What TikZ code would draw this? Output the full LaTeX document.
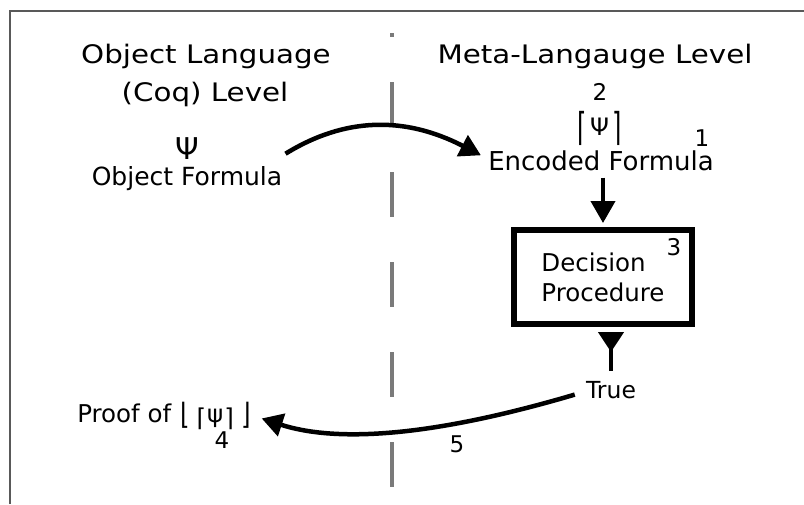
\documentclass[tikz,border=0pt]{standalone}
\usepackage{fontspec}
\usepackage{graphicx}
\setmainfont{DejaVu Sans}
\newfontfamily\headfont{DejaVu Sans}[FakeStretch=1.15]
\usetikzlibrary{arrows.meta,positioning}
\newcommand{\tallbr}[3]{\raisebox{#2}{\scalebox{1}[#1]{#3}}}

\begin{document}
\begin{tikzpicture}[
                    x=1pt,
                    y=-1pt,
                    inner sep=0pt,
                    semithick
                ]
                \tikzstyle{heading}=[
                    font=\headfont\fontsize{25.5}{30}\selectfont,
                    anchor=base
                ]
                \tikzstyle{caption}=[
                    font=\fontsize{25}{30}\selectfont,
                    anchor=base
                ]
                \tikzstyle{stepnum}=[
                    font=\fontsize{23}{28}\selectfont,
                    anchor=base
                ]
                \tikzstyle{decisionbox}=[
                    draw=black,
                    line width=6pt,
                    minimum width=178pt,
                    minimum height=94pt,
                    align=left,
                    font=\fontsize{24.5}{30}\selectfont
                ]
                \tikzstyle{bigarrow}=[
                    line width=4.5pt,
                    -{Triangle[length=21pt, width=23pt]}
                ]

                \useasboundingbox (0,0) rectangle (804,504);

                % frame and the level divider
                \draw[line width=1.2pt, black!65] (10,504) -- (10,11) -- (804,11);
                \draw[line width=4pt, black!52, dash pattern=on 45pt off 45pt, dash phase=41pt]
                    (392,33) -- (392,490);

                % headings
                \node[heading] (objhead) at (206,63) {Object Language};
                \node[heading] (coqhead) at (205,101) {(Coq) Level};
                \node[heading] (metahead) at (595,63) {Meta-Langauge Level};

                % object side
                \node[anchor=base, font=\fontsize{30}{30}\selectfont] (psi) at (187,159) {Ψ};
                \node[caption] (objformula) at (187,185) {Object Formula};
                \node[caption, anchor=base west, font=\fontsize{24.5}{30}\selectfont] (proof) at (77,422)
                    {Proof of \hspace{2pt}\tallbr{1.2}{-2pt}{⌊}\hspace{6pt}\tallbr{1}{-4pt}{⌈}\hspace{1pt}ψ\hspace{1pt}\tallbr{1}{-4pt}{⌉}\hspace{8pt}\tallbr{1.2}{-2pt}{⌋}};
                \node[stepnum] (four) at (222,448) {4};

                % meta side
                \node[stepnum] (two) at (600,100) {2};
                \node[anchor=base, font=\fontsize{24}{30}\selectfont] (encpsi) at (600,135)
                    {\tallbr{1.6}{-5pt}{⌈}\hspace{3pt}Ψ\hspace{4pt}\tallbr{1.6}{-5pt}{⌉}};
                \node[stepnum] (one) at (702,146) {1};
                \node[caption, font=\fontsize{26}{30}\selectfont] (encoded) at (601,170) {Encoded Formula};
                \node[decisionbox] (decide) at (603,277) {Decision\\Procedure};
                \node[stepnum] (three) at (674,255) {3};
                \node[anchor=base, font=\fontsize{23.5}{28}\selectfont] (true) at (611,398) {True};
                \node[stepnum] (five) at (457,452) {5};

                % arrows
                \draw[bigarrow]
                    ([shift={(3,-12)}]objformula.north east)
                    .. controls (345,117) and (405,116) ..
                    ([shift={(-7,-5)}]encoded.west);
                \draw[line width=4pt, -{Triangle[length=22pt, width=24pt]}, shorten <=7pt, shorten >=4pt]
                    (decide.north |- encoded.south) -- (decide.north);
                \draw[line width=4.5pt, -{Triangle[reversed, length=20pt, width=25pt]}, shorten >=5pt]
                    ([shift={(0,-10)}]true.north) -- (true.north |- decide.south);
                \draw[bigarrow]
                    ([shift={(-11,5)}]true.west)
                    .. controls (421,440) and (331,441) ..
                    ([shift={(10,3)}]proof.east);
\end{tikzpicture}
\end{document}
